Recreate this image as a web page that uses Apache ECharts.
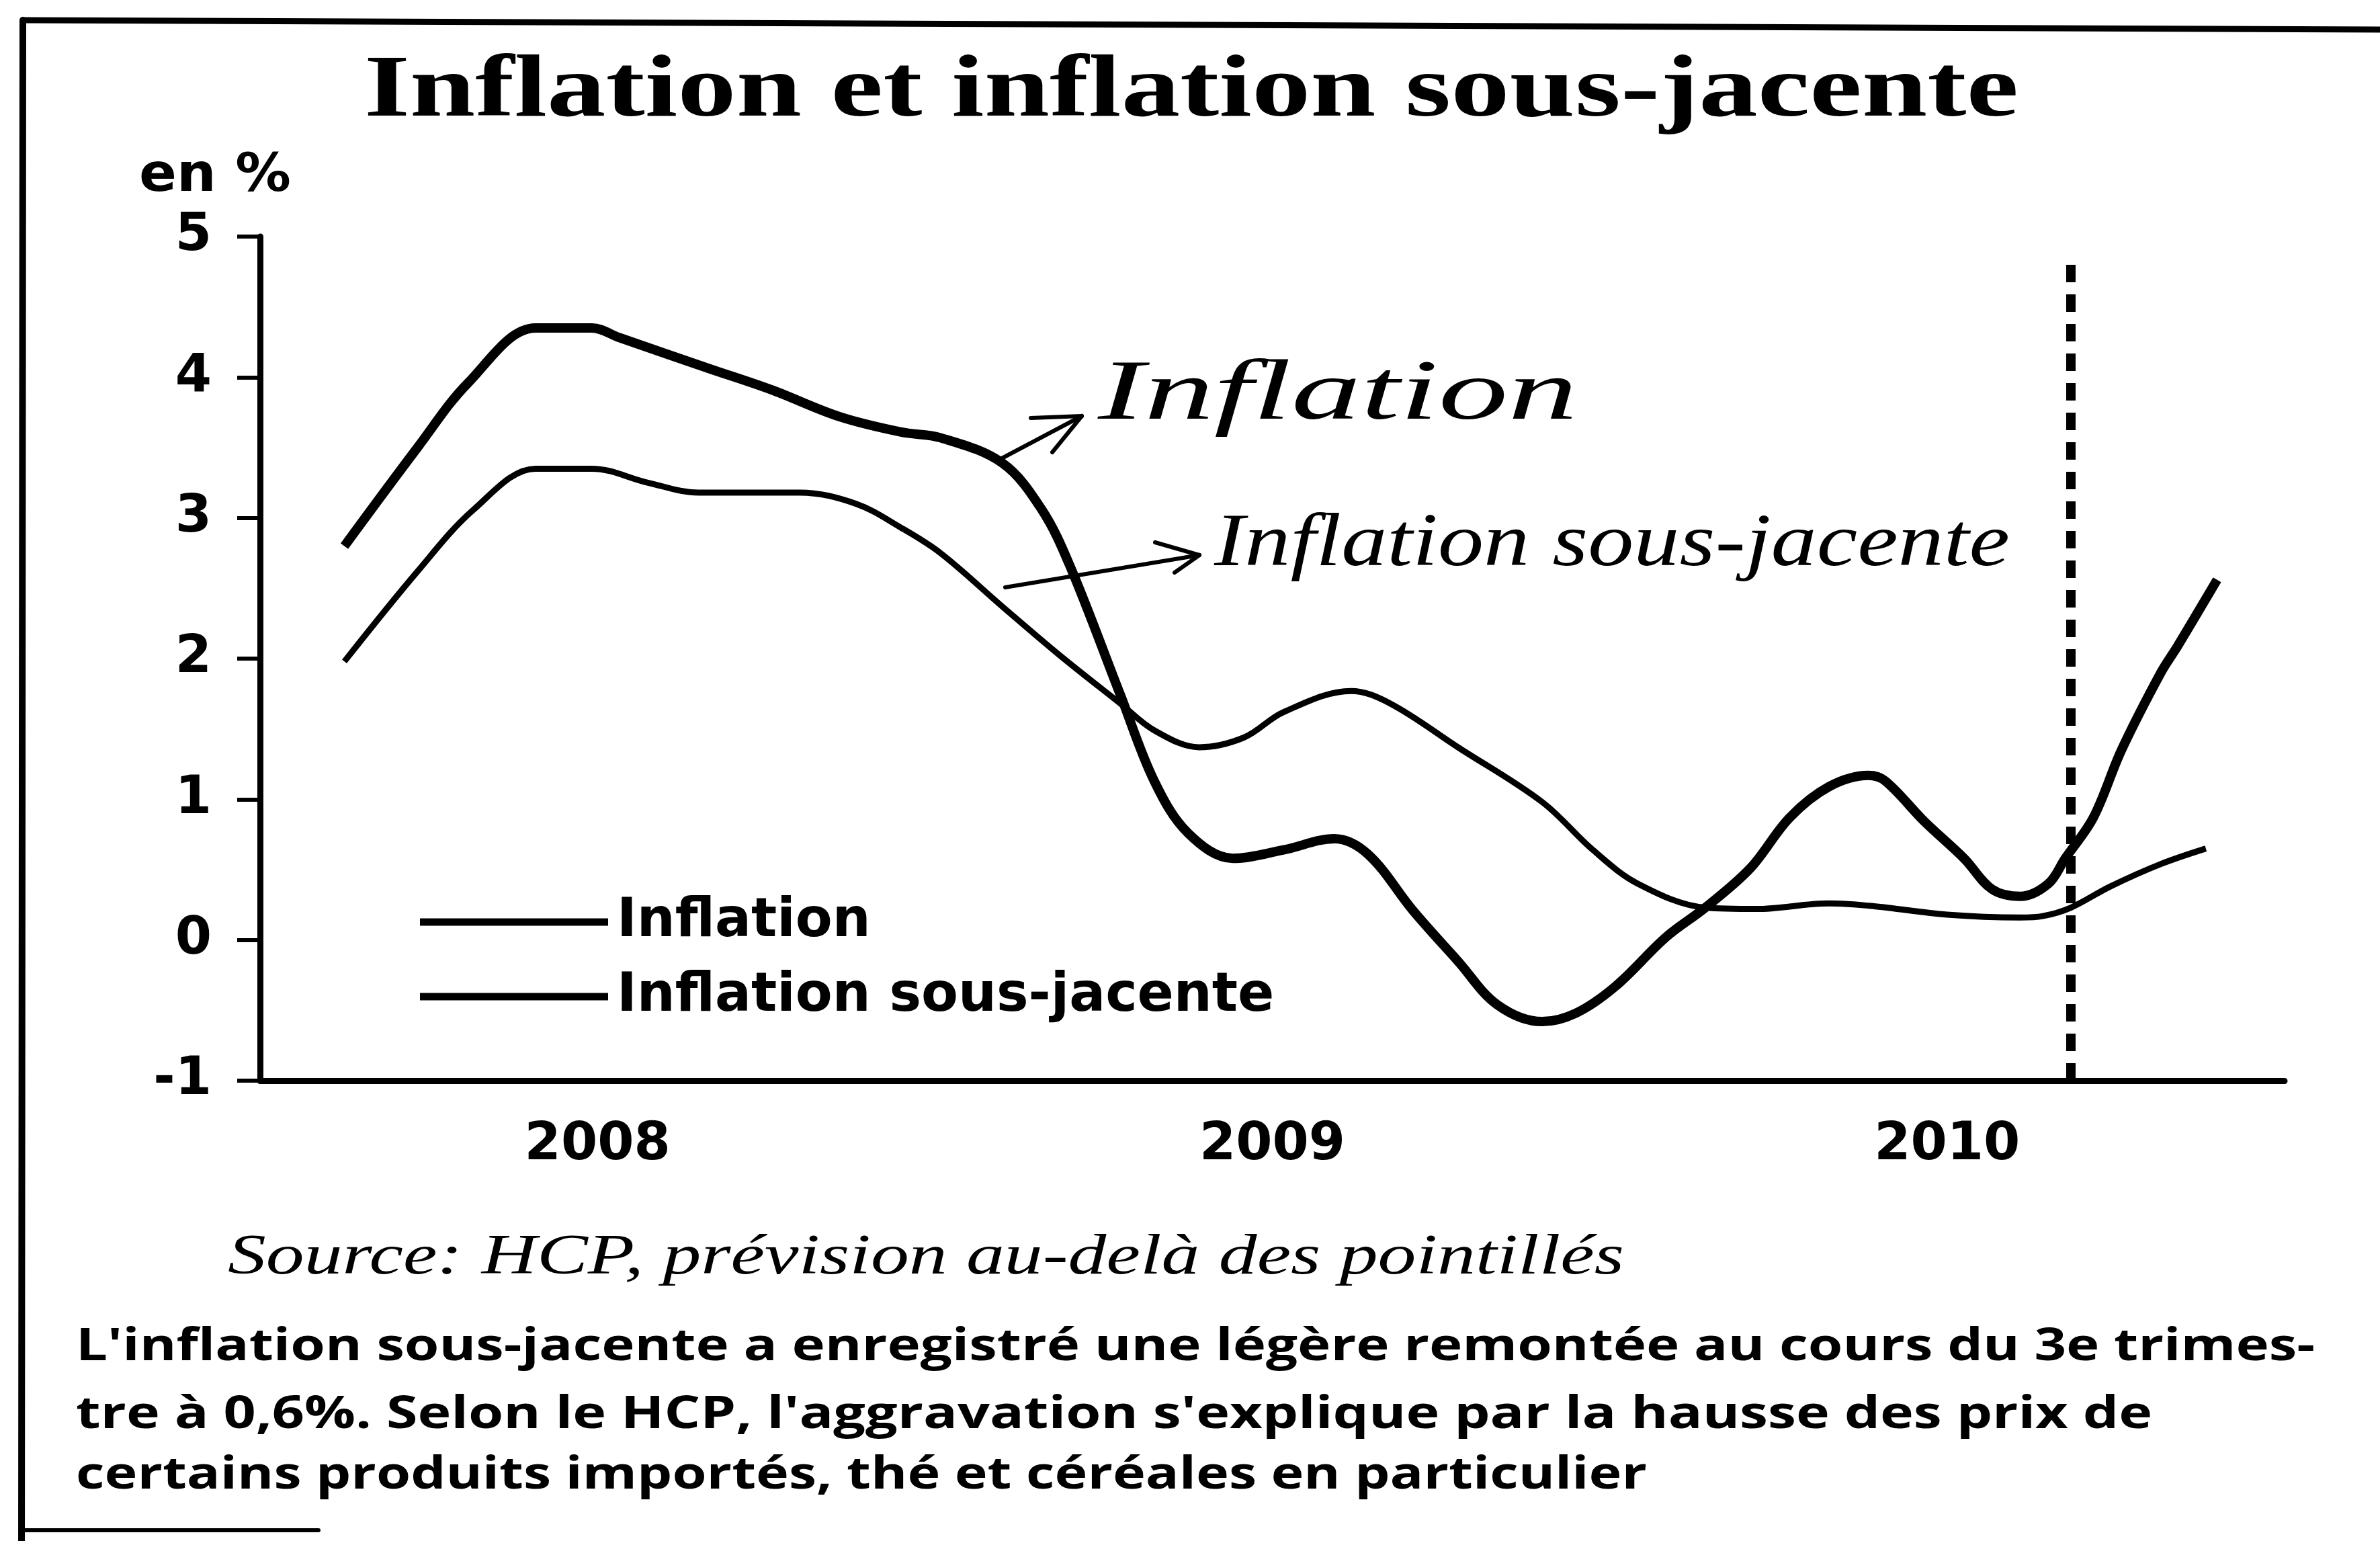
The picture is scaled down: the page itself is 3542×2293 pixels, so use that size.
<!DOCTYPE html>
<html>
<head>
<meta charset="utf-8">
<script src="https://cdn.jsdelivr.net/npm/echarts@6/dist/echarts.min.js"></script>
<style>
html,body{margin:0;padding:0;background:#fff;}
#chart{width:3542px;height:2293px;}
</style>
</head>
<body>
<div id="chart"></div>
<script>
// ---- data (x = months since Jan 2008) ----
const inflationMonths = [1.5, 2.8, 3.7, 4.9, 5.9, 6.4, 8.0, 9.1, 10.3, 11.4, 12.1, 13.2, 13.9, 14.4, 15.3, 15.9, 16.5, 17.3, 18.2, 19.1, 19.7, 20.5, 21.3, 22.0, 22.8, 23.4, 24.1, 25.0, 25.7, 26.5, 27.2, 27.9, 28.6, 28.9, 29.6, 30.3, 30.8, 31.3, 31.8, 32.1, 32.6, 33.1, 33.8, 34.1, 34.8];
const inflationValues = [2.80, 3.50, 3.96, 4.35, 4.35, 4.28, 4.06, 3.91, 3.72, 3.61, 3.57, 3.39, 3.06, 2.66, 1.74, 1.13, 0.76, 0.58, 0.64, 0.72, 0.61, 0.21, -0.15, -0.46, -0.58, -0.52, -0.33, 0.02, 0.23, 0.51, 0.87, 1.09, 1.17, 1.13, 0.84, 0.58, 0.36, 0.31, 0.40, 0.58, 0.87, 1.35, 1.90, 2.09, 2.56];
const sousJacenteMonths = [1.5, 2.8, 3.8, 4.9, 5.9, 6.9, 7.8, 9.6, 10.6, 11.4, 12.1, 13.2, 14.2, 15.3, 15.9, 16.7, 17.5, 18.2, 19.4, 20.1, 21.3, 22.8, 23.7, 24.5, 25.7, 26.6, 27.9, 28.7, 30.0, 31.3, 31.7, 32.2, 32.9, 33.8, 34.6];
const sousJacenteValues = [1.98, 2.62, 3.06, 3.35, 3.35, 3.25, 3.18, 3.18, 3.10, 2.93, 2.75, 2.37, 2.03, 1.68, 1.49, 1.37, 1.44, 1.62, 1.77, 1.68, 1.37, 0.98, 0.64, 0.40, 0.23, 0.22, 0.26, 0.24, 0.18, 0.16, 0.17, 0.23, 0.38, 0.54, 0.65];
const forecastStartMonth = 32.2;
const forecastLineRange = [-1, 4.8];
const yearLabels = ['2008', '2009', '2010'];
const yTickLabels = ['-1', '0', '1', '2', '3', '4', '5'];
const seriesNames = ['Inflation', 'Inflation sous-jacente'];
const titleText = 'Inflation et inflation sous-jacente';
const unitText = 'en %';
const sourceText = 'Source: HCP, prévision au-delà des pointillés';
const noteLines = [
  "L'inflation sous-jacente a enregistré une légère remontée au cours du 3e trimes-",
  "tre à 0,6%. Selon le HCP, l'aggravation s'explique par la hausse des prix de",
  "certains produits importés, thé et céréales en particulier"
];
const handNotes = ['Inflation', 'Inflation sous-jacente'];

// ---- helpers ----
const mctx = document.createElement('canvas').getContext('2d');
function fitScale(text, font, target) {
  mctx.font = font;
  return target / mctx.measureText(text).width;
}
function txt(text, x, y, o) {
  const font = (o.style || 'normal') + ' ' + (o.weight || 'normal') + ' ' + o.size + 'px ' + o.family;
  const sx = o.width ? fitScale(text, font, o.width) : 1;
  return {
    type: 'text', x: x, y: y, scaleX: sx, z: 10,
    style: {
      text: text, fill: '#000', align: o.align || 'left', verticalAlign: 'middle',
      fontSize: o.size, fontFamily: o.family, fontWeight: o.weight || 'normal',
      fontStyle: o.style || 'normal'
    }
  };
}
function seg(x1, y1, x2, y2, w) {
  return { type: 'line', z: 10, shape: { x1, y1, x2, y2 }, style: { stroke: '#000', lineWidth: w, lineCap: 'round' } };
}

const chart = echarts.init(document.getElementById('chart'), null, { renderer: 'canvas' });

const graphics = [
  // frame
  seg(34, 30, 3542, 44, 9),
  seg(34, 30, 32, 2293, 10),
  seg(34, 2277, 474, 2277, 6),
  // title
  txt(titleText, 542, 138, { size: 132, family: '"Liberation Serif"', weight: 'bold', width: 2462 }),
  // unit
  txt(unitText, 207, 264, { size: 78, family: '"DejaVu Sans"', weight: 'bold', width: 226 }),
  // source
  txt(sourceText, 339, 1873, { size: 85, family: '"Liberation Serif"', style: 'italic', width: 2078 }),
  // note paragraph
  txt(noteLines[0], 113, 2005, { size: 66, family: '"Open Sans"', weight: 'bold', width: 3332 }),
  txt(noteLines[1], 113, 2106, { size: 66, family: '"Open Sans"', weight: 'bold', width: 3090 }),
  txt(noteLines[2], 113, 2196, { size: 66, family: '"Open Sans"', weight: 'bold', width: 2338 }),
  // handwritten annotations
  txt(handNotes[0], 1634, 590, { size: 127, family: '"Liberation Serif"', style: 'italic', width: 714 }),
  txt(handNotes[1], 1807, 812, { size: 112, family: '"Liberation Serif"', style: 'italic', width: 1184 }),
  seg(1489, 683, 1610, 619, 6),
  seg(1534, 622, 1610, 619, 6),
  seg(1610, 619, 1566, 673, 6),
  seg(1496, 874, 1785, 826, 6),
  seg(1719, 807, 1785, 826, 6),
  seg(1785, 826, 1748, 852, 6)
];

const option = {
  animation: false,
  backgroundColor: '#fff',
  grid: { left: 387, right: 142, top: 352, bottom: 685, containLabel: false },
  legend: {
    data: seriesNames,
    orient: 'vertical',
    left: 620, top: 1327,
    itemWidth: 280, itemHeight: 11, itemGap: 31,
    icon: 'rect',
    itemStyle: { color: '#000' },
    textStyle: { fontSize: 80, fontFamily: '"DejaVu Sans"', fontWeight: 'bold', color: '#000', lineHeight: 80, padding: [0, 0, 0, 8] }
  },
  xAxis: {
    type: 'value', min: 0, max: 36, interval: 6,
    axisLine: { show: true, onZero: false, lineStyle: { color: '#000', width: 9 } },
    axisTick: { show: false },
    splitLine: { show: false },
    axisLabel: {
      margin: 58, color: '#000', fontSize: 78, fontFamily: '"DejaVu Sans"', fontWeight: 'bold',
      formatter: function (v) { return (v % 12 === 6) ? yearLabels[(v - 6) / 12] : ''; }
    }
  },
  yAxis: {
    type: 'value', min: -1, max: 5, interval: 1,
    axisLine: { show: true, onZero: false, lineStyle: { color: '#000', width: 9 } },
    axisTick: { show: true, inside: false, length: 34, lineStyle: { color: '#000', width: 6 } },
    splitLine: { show: false },
    axisLabel: {
      margin: 72, color: '#000', fontSize: 78, fontFamily: '"DejaVu Sans"', fontWeight: 'bold',
      formatter: function (v) { return yTickLabels[Math.round(v) + 1]; }
    }
  },
  series: [
    {
      name: seriesNames[0], type: 'line', smooth: 0.35, showSymbol: false, symbol: 'none',
      data: inflationMonths.map((m, i) => [m, inflationValues[i]]),
      lineStyle: { color: '#000', width: 14 }, itemStyle: { color: '#000' }, z: 5
    },
    {
      name: seriesNames[1], type: 'line', smooth: 0.35, showSymbol: false, symbol: 'none',
      data: sousJacenteMonths.map((m, i) => [m, sousJacenteValues[i]]),
      lineStyle: { color: '#000', width: 9 }, itemStyle: { color: '#000' }, z: 4
    },
    {
      type: 'line', showSymbol: false, symbol: 'none', silent: true,
      data: forecastLineRange.map(v => [forecastStartMonth, v]),
      lineStyle: { color: '#000', width: 14, type: [26, 18] }, z: 3
    }
  ],
  graphic: graphics
};
chart.setOption(option);
</script>
</body>
</html>
